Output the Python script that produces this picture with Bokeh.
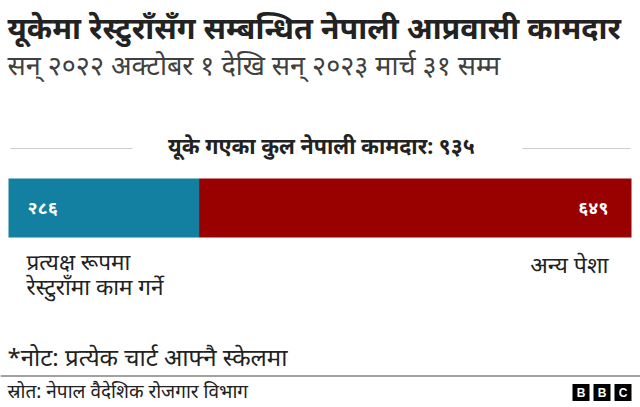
from bokeh.plotting import figure
from bokeh.models import Range1d, Label, ColumnDataSource
from bokeh.embed import file_html
from bokeh.resources import INLINE

# ---- data ----
title = "यूकेमा रेस्टुराँसँग सम्बन्धित नेपाली आप्रवासी कामदार"
subtitle = "सन् २०२२ अक्टोबर १ देखि सन् २०२३ मार्च ३१ सम्म"
header_prefix = "यूके गएका कुल नेपाली कामदार: "
categories = ["प्रत्यक्ष रूपमा\nरेस्टुराँमा काम गर्ने", "अन्य पेशा"]
values = [286, 649]
colors = ["#1380A1", "#990000"]
note = "*नोट: प्रत्येक चार्ट आफ्नै स्केलमा"
source_txt = "स्रोत: नेपाल वैदेशिक रोजगार विभाग"

DEV = str.maketrans("0123456789", "०१२३४५६७८९")
def dev(n):
    return str(n).translate(DEV)

W, H = 640, 407
FONT = "Noto Sans"
total = sum(values)
x0, x1 = 8.0, 631.0  # bar extent in px

p = figure(width=W, height=H, output_backend="svg", toolbar_location=None,
           x_range=Range1d(-x0 * total / (x1 - x0), (W - x0) * total / (x1 - x0)),
           y_range=Range1d(H, 0),
           min_border=0, outline_line_color=None)
p.axis.visible = False
p.grid.visible = False
p.background_fill_color = "white"
p.border_fill_color = "white"
p.extra_x_ranges = {"px": Range1d(0, W)}

# bars
lefts = [sum(values[:i]) for i in range(len(values))]
rights = [l + v for l, v in zip(lefts, values)]
src = ColumnDataSource(dict(y=[207.5] * len(values), left=lefts, right=rights, color=colors))
p.hbar(y="y", left="left", right="right", height=59, color="color", line_color=None, source=src)

def lab(x, y, text, size, bold=False, align="left", color="#222222", baseline="middle"):
    p.add_layout(Label(x=x, y=y, x_range_name="px", text=text, text_font=FONT,
                       text_font_size=f"{size}px", text_font_style="bold" if bold else "normal",
                       text_align=align, text_baseline=baseline, text_color=color))

lab(7, 26, title, 30.5, bold=True)
lab(7, 64, subtitle, 27, color="#404040")

p.line(x=[10, 132], y=[148, 148], x_range_name="px", line_color="#cccccc", line_width=1)
p.line(x=[522, 630], y=[148, 148], x_range_name="px", line_color="#cccccc", line_width=1)
lab(321, 145, header_prefix + dev(total), 21.5, bold=True, align="center")

lab(27, 206, dev(values[0]), 18, bold=True, color="white")
lab(608, 206, dev(values[1]), 18, bold=True, color="white", align="right")

lines0 = categories[0].split("\n")
lab(26, 261, lines0[0], 22.5)
lab(26, 286, lines0[1], 22.5)
lab(608, 263, categories[1], 23, align="right")

lab(7, 356, note, 24)
p.line(x=[0, W], y=[375.5, 375.5], x_range_name="px", line_color="#444444", line_width=1)
lab(7, 390, source_txt, 19)

for i, ch in enumerate("BBC"):
    cx = 572 + i * 21 + 8.5
    p.rect(x=cx, y=392, width=17, height=17, x_range_name="px", color="black", line_color=None)
    p.add_layout(Label(x=cx, y=392.5, x_range_name="px", text=ch, text_font="Liberation Sans",
                       text_font_size="12px", text_font_style="bold", text_align="center",
                       text_baseline="middle", text_color="white"))

open("out.html", "w").write(file_html(p, INLINE))
